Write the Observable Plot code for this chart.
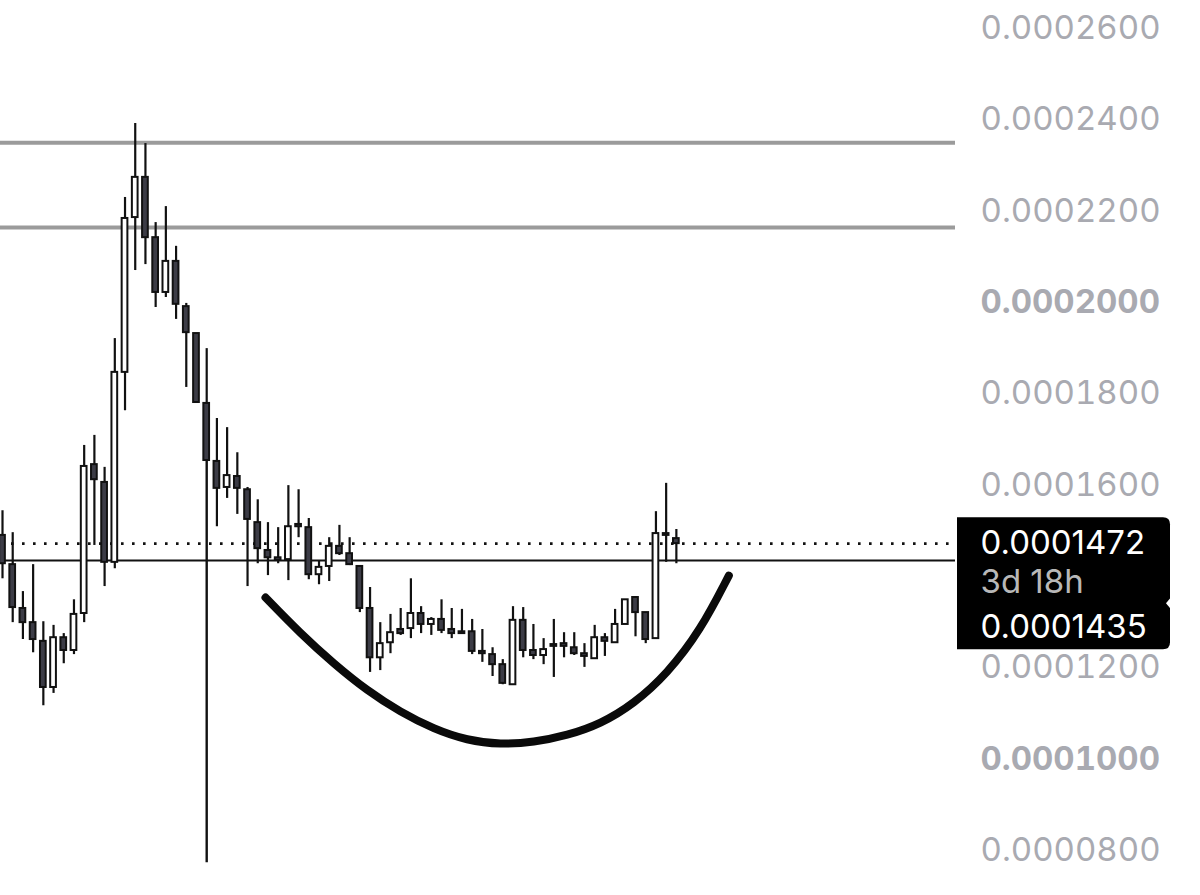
<!DOCTYPE html>
<html>
<head>
<meta charset="utf-8">
<script src="https://cdn.jsdelivr.net/npm/d3@7"></script>
<script src="https://cdn.jsdelivr.net/npm/@observablehq/plot@0.6"></script>
<style>
  html, body { margin: 0; padding: 0; background: #ffffff; }
  #chart { width: 1200px; height: 895px; overflow: hidden; }
</style>
</head>
<body>
<div id="chart"></div>
<script>
// ---- Data (prices) ----
const openP = [0.0001490,0.0001426,0.0001330,0.0001299,0.0001258,0.0001157,0.0001266,0.0001238,0.0001319,0.0001645,
  0.0001606,0.0001431,0.0001847,0.0002186,0.0002274,0.0002142,0.0002022,0.0002090,0.0001991,0.0001932,
  0.0001779,0.0001652,0.0001595,0.0001619,0.0001590,0.0001518,0.0001457,0.0001441,0.0001437,0.0001514,
  0.0001507,0.0001404,0.0001422,0.0001466,0.0001450,0.0001422,0.0001330,0.0001222,0.0001255,0.0001284,
  0.0001286,0.0001319,0.0001295,0.0001306,0.0001284,0.0001279,0.0001279,0.0001236,0.0001229,0.0001207,
  0.0001163,0.0001304,0.0001238,0.0001227,0.0001251,0.0001253,0.0001244,0.0001231,0.0001220,0.0001266,
  0.0001255,0.0001295,0.0001354,0.0001321,0.0001264,0.0001494,0.0001483];
const highP = [0.0001544,0.0001496,0.0001367,0.0001426,0.0001301,0.0001293,0.0001275,0.0001349,0.0001687,0.0001709,
  0.0001639,0.0001921,0.0002230,0.0002392,0.0002348,0.0002175,0.0002210,0.0002123,0.0001998,0.0001932,
  0.0001899,0.0001746,0.0001726,0.0001671,0.0001595,0.0001568,0.0001518,0.0001507,0.0001599,0.0001590,
  0.0001527,0.0001435,0.0001485,0.0001512,0.0001485,0.0001422,0.0001376,0.0001299,0.0001317,0.0001330,
  0.0001395,0.0001334,0.0001310,0.0001349,0.0001330,0.0001328,0.0001306,0.0001284,0.0001244,0.0001218,
  0.0001334,0.0001332,0.0001295,0.0001264,0.0001306,0.0001277,0.0001277,0.0001253,0.0001293,0.0001275,
  0.0001328,0.0001349,0.0001356,0.0001321,0.0001542,0.0001604,0.0001503];
const lowP = [0.0001395,0.0001299,0.0001262,0.0001233,0.0001117,0.0001144,0.0001209,0.0001229,0.0001299,0.0001468,
  0.0001378,0.0001417,0.0001763,0.0002070,0.0002083,0.0001989,0.0002011,0.0001963,0.0001814,0.0001781,
  0.0001654,0.0001509,0.0001571,0.0001536,0.0001378,0.0001428,0.0001402,0.0001428,0.0001391,0.0001485,
  0.0001393,0.0001382,0.0001389,0.0001446,0.0001424,0.0001321,0.0001190,0.0001194,0.0001231,0.0001271,
  0.0001264,0.0001275,0.0001271,0.0001275,0.0001264,0.0001273,0.0001229,0.0001212,0.0001181,0.0001163,
  0.0001163,0.0001222,0.0001218,0.0001207,0.0001179,0.0001222,0.0001227,0.0001201,0.0001220,0.0001225,
  0.0001255,0.0001295,0.0001268,0.0001253,0.0001264,0.0001431,0.0001428];
const closeP = [0.0001428,0.0001332,0.0001299,0.0001262,0.0001157,0.0001266,0.0001238,0.0001317,0.0001641,0.0001612,
  0.0001431,0.0001847,0.0002184,0.0002274,0.0002142,0.0002022,0.0002090,0.0001996,0.0001934,0.0001781,
  0.0001654,0.0001593,0.0001621,0.0001593,0.0001525,0.0001461,0.0001441,0.0001435,0.0001509,0.0001509,
  0.0001404,0.0001420,0.0001466,0.0001450,0.0001426,0.0001330,0.0001222,0.0001253,0.0001277,0.0001275,
  0.0001319,0.0001295,0.0001306,0.0001282,0.0001275,0.0001275,0.0001236,0.0001231,0.0001207,0.0001166,
  0.0001304,0.0001238,0.0001227,0.0001240,0.0001247,0.0001247,0.0001231,0.0001225,0.0001266,0.0001258,
  0.0001295,0.0001349,0.0001321,0.0001262,0.0001494,0.0001490,0.0001472];

// Horizontal levels
const resistanceLevels = [0.0002350, 0.0002164];
const currentPrice = 0.0001472;
const markedPrice = 0.0001435;
const countdown = "3d 18h";
// Vertical marker at candle index
const markerIndex = 20;
const markerBottom = 0.0000773;

// Cup (rounded bottom) annotation, in candle index / price
const cupX = [25.76, 29.19, 32.45, 35.72, 38.98, 42.24, 45.51, 48.78, 52.04, 55.31, 58.57, 61.83, 65.10, 68.37, 71.14];
const cupY = [0.0001354,0.0001275,0.0001209,0.0001150,0.0001103,0.0001066,0.0001041,0.0001032,0.0001037,0.0001052,
  0.0001077,0.0001121,0.0001187,0.0001282,0.0001402];

// Axis tick values (0.0001400 sits behind the price box in the picture)
const tickValues = [0.00008,0.00010,0.00012,0.00016,0.00018,0.00020,0.00022,0.00024,0.00026];
const boldTicks = [0.00010, 0.00020];

// ---- Build tables ----
const candles = openP.map((o, i) => ({i, open: o, high: highP[i], low: lowP[i], close: closeP[i]}));
const cup = cupX.map((x, k) => ({x, y: cupY[k]}));
const normalTicks = tickValues.filter(t => !boldTicks.some(b => Math.abs(b - t) < 1e-9));

const W = 1200, H = 895, MR = 245;
const FONT = "Inter, 'Noto Sans', sans-serif";
const LABEL_GRAY = "#a9aab1";

// Price box drawn relative to the current price on the y scale
function priceBox(index, scales, values, dimensions) {
  const y = scales.y;
  const cy = y(currentPrice);
  const left = dimensions.width - dimensions.marginRight + 2;
  const w = 213, top = cy - 26, h = 132, r = 7;
  const g = d3.create("svg:g");
  g.append("path")
    .attr("d", `M${left},${top} H${left + w - r} Q${left + w},${top} ${left + w},${top + r} V${top + h - r} Q${left + w},${top + h} ${left + w - r},${top + h} H${left} Z`)
    .attr("fill", "#000");
  g.append("path")
    .attr("d", `M${left + w + 1},${top + 80} L${left + w - 4},${top + 86} L${left + w + 1},${top + 92} Z`)
    .attr("fill", "#fff");
  return g.node();
}

const chart = Plot.plot({
  width: W,
  height: H,
  marginTop: 0,
  marginBottom: 0,
  marginLeft: 0,
  marginRight: MR,
  style: {background: "#ffffff", fontFamily: FONT, overflow: "visible"},
  x: {type: "linear", domain: [-0.196, 93.34], axis: null},
  y: {type: "linear", domain: [0.00007015, 0.00026613], axis: null},
  marks: [
    // levels
    Plot.ruleY(resistanceLevels, {stroke: "#9b9b9b", strokeWidth: 4}),
    Plot.ruleY([currentPrice], {stroke: "#111", strokeWidth: 2.6, strokeDasharray: "2.6,8.4"}),
    Plot.ruleY([markedPrice], {stroke: "#111", strokeWidth: 2}),
    Plot.ruleX([markerIndex], {y1: markerBottom, y2: closeP[markerIndex], stroke: "#111", strokeWidth: 2.4}),
    // cup
    Plot.line(cup, {x: "x", y: "y", curve: "basis", stroke: "#0a0a0a", strokeWidth: 8, strokeLinecap: "round"}),
    // candles
    Plot.ruleX(candles, {x: "i", y1: "low", y2: "high", stroke: "#111", strokeWidth: 2.2, clip: true}),
    Plot.rect(candles, {
      x1: d => d.i - 0.28, x2: d => d.i + 0.28,
      y1: "open", y2: "close",
      fill: d => d.close < d.open ? "#3c3c46" : "#ffffff",
      stroke: "#111", strokeWidth: 2, clip: true
    }),
    // axis
    Plot.axisY(normalTicks, {anchor: "right", tickSize: 0, tickPadding: 25, tickFormat: d => d.toFixed(7),
      fontSize: 33, fill: LABEL_GRAY, fontFamily: FONT}),
    Plot.axisY(boldTicks, {anchor: "right", tickSize: 0, tickPadding: 25, tickFormat: d => d.toFixed(7),
      fontSize: 33, fontWeight: "bold", fill: LABEL_GRAY, fontFamily: FONT}),
    // price box
    priceBox,
    Plot.text([currentPrice], {y: d => d, frameAnchor: "right", dx: 25, textAnchor: "start",
      text: d => d.toFixed(7), fill: "#ffffff", fontSize: 33, fontFamily: FONT}),
    Plot.text([currentPrice], {y: d => d, frameAnchor: "right", dx: 25, dy: 39, textAnchor: "start",
      text: () => countdown, fill: "#b8b8b8", fontSize: 33, fontFamily: FONT}),
    Plot.text([currentPrice], {y: d => d, frameAnchor: "right", dx: 25, dy: 84, textAnchor: "start",
      text: () => markedPrice.toFixed(7), fill: "#ffffff", fontSize: 33, fontFamily: FONT})
  ]
});
document.getElementById("chart").appendChild(chart);
</script>
</body>
</html>
